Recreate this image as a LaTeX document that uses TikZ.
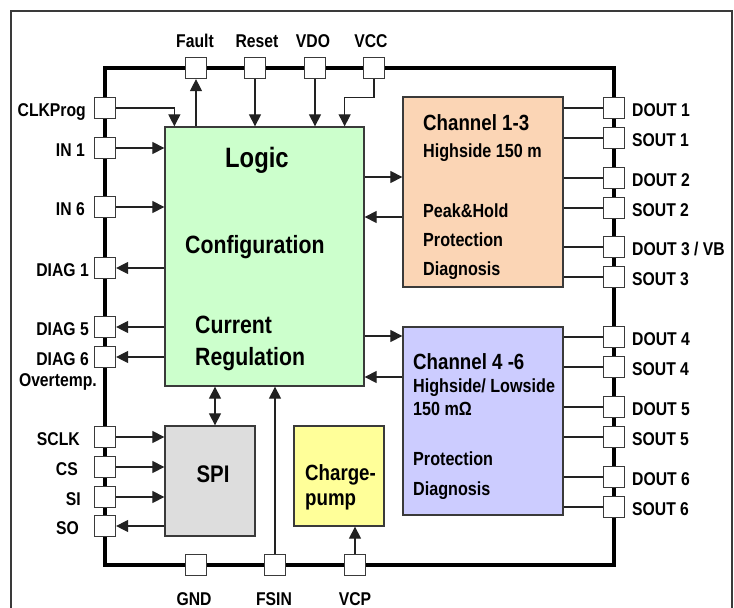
\documentclass[tikz,border=0pt]{standalone}
\usepackage{fontspec}
\setmainfont{Liberation Sans}[FakeStretch=0.85]
\usetikzlibrary{arrows.meta}
\definecolor{logicfill}{HTML}{CCFFCC}
\definecolor{chAfill}{HTML}{FBD5B5}
\definecolor{chBfill}{HTML}{CCCCFF}
\definecolor{spifill}{HTML}{DDDDDD}
\definecolor{cpfill}{HTML}{FFFF99}
\definecolor{linecol}{HTML}{222222}
\definecolor{bordcol}{HTML}{3A3A3A}
\newcommand\fsz[1]{\fontsize{#1}{#1}\selectfont\bfseries}
\begin{document}
\begin{tikzpicture}[x=1pt,y=-1pt,
  pin/.style={draw=bordcol,fill=white,line width=1.2pt,minimum size=21pt,inner sep=0pt},
  blk/.style={draw=bordcol,line width=1.3pt,inner sep=0pt},
  conn/.style={draw=linecol,line width=1.2pt},
  arr/.style={conn,-{Triangle[length=12pt,width=12pt]}},
  darr/.style={conn,{Triangle[length=12pt,width=12pt]}-{Triangle[length=12pt,width=12pt]}},
  lbl/.style={font=\fsz{18.5},inner sep=0pt},
  big/.style={font=\fsz{25},inner sep=0pt},
  mid/.style={font=\fsz{19},inner sep=0pt},
  hdr/.style={font=\fsz{22},inner sep=0pt}]
\useasboundingbox (0,0) rectangle (734,608);
% outer frame
\draw[line width=1.3pt,draw=bordcol] (11,608) -- (11,11) -- (732,11) -- (732,608);
% chip outline
\node[draw=black,line width=3.2pt,minimum width=509pt,minimum height=497pt,inner sep=0pt] (chip) at (359.5,316.5) {};
% blocks
\node[blk,fill=logicfill,minimum width=199pt,minimum height=259pt] (logic) at (264.5,256.5) {};
\node[blk,fill=chAfill,minimum width=160pt,minimum height=190pt] (chA) at (483,192) {};
\node[blk,fill=chBfill,minimum width=160pt,minimum height=188pt] (chB) at (483,421) {};
\node[blk,fill=spifill,minimum width=90pt,minimum height=110pt] (spi) at (210,481) {};
\node[blk,fill=cpfill,minimum width=90pt,minimum height=100pt] (cp) at (339,476) {};
% block texts
\node[font=\fsz{28},inner sep=0pt,anchor=base west] (tLogic) at (225,167) {Logic};
\node[big,anchor=base west] (tConf) at (185,253) {Configuration};
\node[big,anchor=base west] (tCur) at (195,333) {Current};
\node[big,anchor=base west] (tReg) at (195,365) {Regulation};
\node[hdr,anchor=base west] (tChA) at (423,130) {Channel 1-3};
\node[mid,anchor=base west] (tChA2) at (423,157) {Highside 150 m};
\node[mid,anchor=base west] (tChA3) at (423,217) {Peak\&Hold};
\node[mid,anchor=base west] (tChA4) at (423,246) {Protection};
\node[mid,anchor=base west] (tChA5) at (423,275) {Diagnosis};
\node[hdr,anchor=base west] (tChB) at (413,369) {Channel 4 -6};
\node[mid,anchor=base west] (tChB2) at (413,392) {Highside/ Lowside};
\node[mid,anchor=base west] (tChB3) at (413,415) {150 mΩ};
\node[mid,anchor=base west] (tChB4) at (413,465) {Protection};
\node[mid,anchor=base west] (tChB5) at (413,495) {Diagnosis};
\node[font=\fsz{24},inner sep=0pt,anchor=base] (tSpi) at (213,482) {SPI};
\node[hdr,anchor=base west] (tCp1) at (305,480) {Charge-};
\node[hdr,anchor=base west] (tCp2) at (305,505) {pump};
% left pins
\foreach \n/\y in {clk/108,inA/148,inB/207,diagA/268,diagE/327,diagF/357,sclk/437,cs/467,si/497,so/526}
  \node[pin] (\n) at (105,\y) {};
% top pins
\foreach \n/\x in {fault/196,reset/255,vdo/315,vcc/374}
  \node[pin] (\n) at (\x,68) {};
% bottom pins
\foreach \n/\x in {gnd/196,fsin/275,vcp/355}
  \node[pin] (\n) at (\x,565) {};
% right pins
\foreach \n/\y in {doutA/108,soutA/138,doutB/178,soutB/208,doutC/247,soutC/277,doutD/337,soutD/367,doutE/407,soutE/437,doutF/477,soutF/507}
  \node[pin] (\n) at (614,\y) {};
% left labels
\foreach \n/\t/\x/\y in {lclk/CLKProg/86/116,linA/IN 1/85/156,linB/IN 6/85/215,ldiagA/DIAG 1/89/276,ldiagE/DIAG 5/89/335,ldiagF/DIAG 6/89/365,lsclk/SCLK/80/445,lcs/CS/78/475,lsi/SI/81/505,lso/SO/79/534}
  \node[lbl,anchor=base east] (\n) at (\x,\y) {\t};
\node[lbl,anchor=base east] (lovt) at (97,386) {Overtemp.};
% top labels
\foreach \n/\t/\x in {lfault/Fault/195,lreset/Reset/257,lvdo/VDO/313,lvcc/VCC/371}
  \node[lbl,anchor=base] (\n) at (\x,47) {\t};
% bottom labels
\foreach \n/\t/\x in {lgnd/GND/194,lfsin/FSIN/274,lvcp/VCP/355}
  \node[lbl,anchor=base] (\n) at (\x,605) {\t};
% right labels
\foreach \n/\t/\y in {ldA/DOUT 1/108,lsA/SOUT 1/138,ldB/DOUT 2/178,lsB/SOUT 2/208,lsC/SOUT 3/277,ldD/DOUT 4/337,lsD/SOUT 4/367,ldE/DOUT 5/407,lsE/SOUT 5/437,ldF/DOUT 6/477,lsF/SOUT 6/507}
  \node[lbl,anchor=base west] (\n) at (632,\y+8.5) {\t};
\node[lbl,anchor=base west] (ldC) at (632,255.5) {DOUT 3 / VB};
% connectors: top
\draw[arr] (clk.east) -| ([xshift=10pt]logic.north west);
\draw[arr] (logic.north -| fault) -- (fault.south);
\draw[arr] (reset.south) -- (reset |- logic.north);
\draw[arr] (vdo.south) -- (vdo |- logic.north);
\draw[arr] (vcc.south) -- ++(0,18) -| ([xshift=-20pt]logic.north east);
% left side
\draw[arr] (inA.east) -- (inA -| logic.west);
\draw[arr] (inB.east) -- (inB -| logic.west);
\draw[arr] (diagA -| logic.west) -- (diagA.east);
\draw[arr] (diagE -| logic.west) -- (diagE.east);
\draw[arr] (diagF -| logic.west) -- (diagF.east);
\draw[arr] (sclk.east) -- (sclk -| spi.west);
\draw[arr] (cs.east) -- (cs -| spi.west);
\draw[arr] (si.east) -- (si -| spi.west);
\draw[arr] (so -| spi.west) -- (so.east);
% logic - spi
\coordinate (dx) at (215,0);
\draw[darr] (logic.south -| dx) -- (spi.north -| dx);
% bottom
\draw[arr] (fsin.north) -- (fsin |- logic.south);
\draw[arr] (vcp.north) -- (vcp |- cp.south);
% logic - channels
\coordinate (c1) at (0,177);
\coordinate (c2) at (0,217);
\coordinate (c3) at (0,336);
\coordinate (c4) at (0,377);
\draw[arr] (logic.east |- c1) -- (chA.west |- c1);
\draw[arr] (chA.west |- c2) -- (logic.east |- c2);
\draw[arr] (logic.east |- c3) -- (chB.west |- c3);
\draw[arr] (chB.west |- c4) -- (logic.east |- c4);
% channels to pins
\foreach \p in {doutA,soutA,doutB,soutB,doutC,soutC}
  \draw[conn] (chA.east |- \p) -- (\p.west);
\foreach \p in {doutD,soutD,doutE,soutE,doutF,soutF}
  \draw[conn] (chB.east |- \p) -- (\p.west);
\end{tikzpicture}
\end{document}
